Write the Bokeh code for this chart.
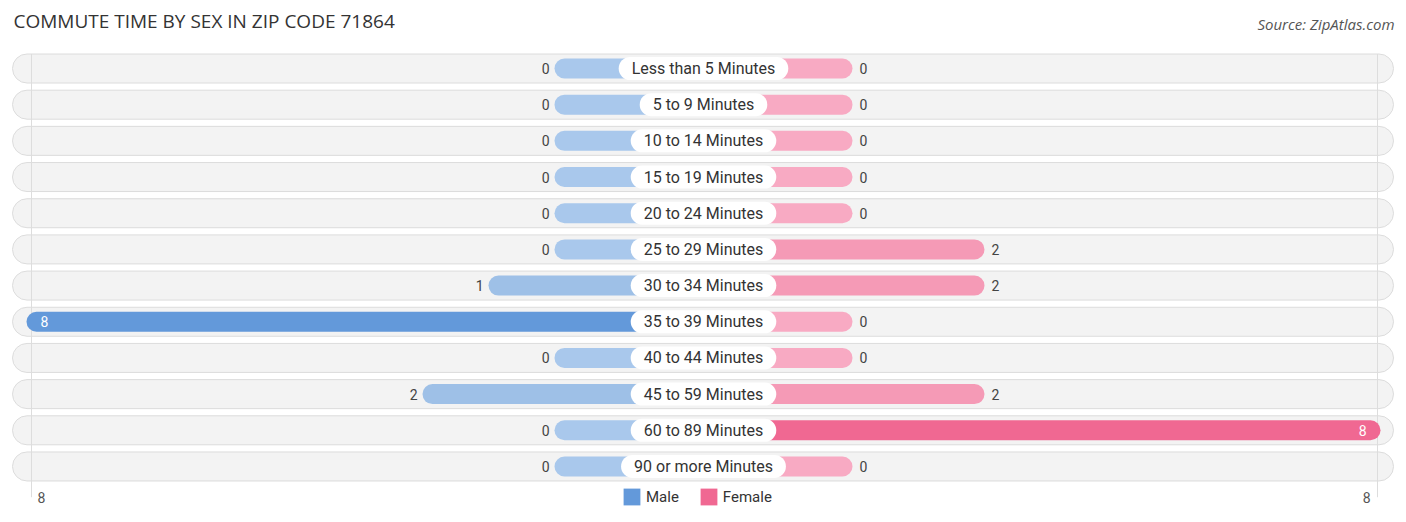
from bokeh.plotting import figure
from bokeh.models import ColumnDataSource, Range1d, Label, Legend, LegendItem
from bokeh.core.properties import value
from bokeh.embed import file_html
from bokeh.resources import INLINE

categories = ["Less than 5 Minutes", "5 to 9 Minutes", "10 to 14 Minutes", "15 to 19 Minutes",
              "20 to 24 Minutes", "25 to 29 Minutes", "30 to 34 Minutes", "35 to 39 Minutes",
              "40 to 44 Minutes", "45 to 59 Minutes", "60 to 89 Minutes", "90 or more Minutes"]
male = [0, 0, 0, 0, 0, 0, 1, 8, 0, 2, 0, 0]
female = [0, 0, 0, 0, 0, 2, 2, 0, 0, 2, 8, 0]
axis_max = 8
title = "COMMUTE TIME BY SEX IN ZIP CODE 71864"
source_text = "Source: ZipAtlas.com"

W, H = 1400, 516
PX = 66.0            # pixels per unit
CENTER = 703.0       # centre in canvas px
OFFSET = 149.0 / PX  # stub length of a zero bar (units)
PITCH = 36.18
ROW0 = 68.0          # canvas y of first row centre

x0 = -CENTER / PX
x1 = (W - CENTER) / PX
y_top = -ROW0 / PITCH
y_bot = (H - ROW0) / PITCH

p = figure(width=W, height=H, output_backend="svg", toolbar_location=None,
           x_range=Range1d(x0, x1), y_range=Range1d(y_bot, y_top),
           min_border=0, outline_line_color=None)
p.axis.visible = False
p.grid.visible = False
p.background_fill_color = "white"
p.border_fill_color = "white"

n = len(categories)
ys = list(range(n))

def mcolor(v):
    if v >= 8: return "#6399da"
    if v >= 1: return "#9ec0e7"
    return "#a9c8ec"

def fcolor(v):
    if v >= 8: return "#f06892"
    if v >= 1: return "#f59ab6"
    return "#f8aac3"

# row backgrounds
p.hbar(y=ys, left=(12 - CENTER) / PX, right=(1393 - CENTER) / PX,
       height=29 / PITCH, fill_color="#f3f3f3", line_color="#dcdcdc", line_width=1,
       border_radius=15)

# faint vertical guide lines
gx = [(31 - CENTER) / PX, (1377 - CENTER) / PX]
p.segment(x0=gx, x1=gx, y0=[-0.4, -0.4], y1=[n - 0.15, n - 0.15],
          line_color="#dddddd", line_width=1)

mleft = [-(OFFSET + v) for v in male]
fright = [OFFSET + v for v in female]
msrc = ColumnDataSource(dict(y=ys, left=mleft, right=[0] * n, c=[mcolor(v) for v in male]))
fsrc = ColumnDataSource(dict(y=ys, left=[0] * n, right=fright, c=[fcolor(v) for v in female]))
p.hbar(y="y", left="left", right="right", height=20 / PITCH, fill_color="c", line_color=None,
       border_radius=10, source=msrc)
p.hbar(y="y", left="left", right="right", height=20 / PITCH, fill_color="c", line_color=None,
       border_radius=10, source=fsrc)

# value labels
def lab(vals, side):
    xs, al, col, off, txt = [], [], [], [], []
    for v in vals:
        inside = v >= 0.9 * axis_max
        edge = side * (OFFSET + v)
        xs.append(edge)
        txt.append(str(v))
        if inside:
            al.append("left" if side < 0 else "right")
            col.append("white")
            off.append(14 if side < 0 else -14)
        else:
            al.append("right" if side < 0 else "left")
            col.append("#444444")
            off.append(-5 if side < 0 else 7)
    return ColumnDataSource(dict(x=xs, y=ys, t=txt, a=al, c=col, o=off))

for src in (lab(male, -1), lab(female, 1)):
    p.text(x="x", y="y", text="t", text_align="a", text_color="c", x_offset="o",
           text_baseline="middle", text_font=value("Roboto"), text_font_size="14px", source=src)

# category labels (padding order: left, right, top, bottom)
p.text(x=[0] * n, y=ys, text=categories, text_align="center", text_baseline="middle",
       text_font=value("Roboto"), text_font_size="16px", text_color="#333333",
       background_fill_color="white", padding=(13, 13, 2, 2), border_radius=12)

# title / source
p.add_layout(Label(x=13, y=H - 20, x_units="screen", y_units="screen", text=title,
                   text_font="Open Sans", text_font_size="19px", text_color="#333333",
                   text_baseline="middle"))
p.add_layout(Label(x=1394, y=H - 23, x_units="screen", y_units="screen", text=source_text,
                   text_font="Open Sans", text_font_size="15px", text_font_style="italic",
                   text_color="#555555", text_align="right", text_baseline="middle"))

# axis extremes
p.add_layout(Label(x=37, y=H - 497, x_units="screen", y_units="screen", text=str(axis_max),
                   text_font="Roboto", text_font_size="14px", text_color="#555555",
                   text_baseline="middle"))
p.add_layout(Label(x=1370, y=H - 497, x_units="screen", y_units="screen", text=str(axis_max),
                   text_font="Roboto", text_font_size="14px", text_color="#555555",
                   text_align="right", text_baseline="middle"))

# legend (renderers hold one row far outside the view so the swatches are drawn)
rm = p.hbar(y=[5], left=[1000], right=[1001], height=0.1, fill_color="#6399da", line_color=None)
rf = p.hbar(y=[5], left=[1000], right=[1001], height=0.1, fill_color="#f06892", line_color=None)
leg = Legend(items=[LegendItem(label="Male", renderers=[rm]), LegendItem(label="Female", renderers=[rf])],
             orientation="horizontal", location=(621, H - 507), glyph_width=21, glyph_height=21,
             label_text_font="Roboto", label_text_font_size="15px", label_text_color="#333333",
             label_standoff=4, spacing=19, padding=0, margin=0, border_line_color=None,
             background_fill_alpha=0)
p.add_layout(leg)

open("out.html", "w").write(file_html(p, INLINE))
